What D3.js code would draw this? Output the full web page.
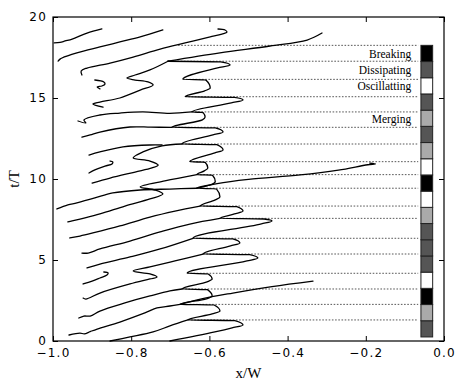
<!DOCTYPE html>
<html>
<head>
<meta charset="utf-8">
<script src="https://cdn.jsdelivr.net/npm/d3@7"></script>
<style>
body { margin: 0; background: #fff; }
</style>
</head>
<body>
<div id="chart"></div>
<script>
// crest trajectories, [x/W, t/T]
var row01 = [[-0.854,0.0],[-0.803,0.25],[-0.744,0.56],[-0.701,0.93],[-0.655,1.30]];
var row02 = [[-0.959,0.37],[-0.931,0.49],[-0.920,0.44],[-0.905,0.58],[-0.887,0.74],[-0.829,1.17],[-0.765,1.73],[-0.734,2.04],[-0.701,2.16],[-0.675,2.26]];
var row03 = [[-0.934,1.42],[-0.921,1.54],[-0.905,1.54],[-0.880,1.85],[-0.816,2.35],[-0.752,2.78],[-0.701,3.09],[-0.670,3.21]];
var row04 = [[-0.923,2.65],[-0.916,2.59],[-0.880,2.96],[-0.803,3.52],[-0.752,3.83],[-0.734,3.95],[-0.752,4.14],[-0.795,4.32],[-0.752,4.57],[-0.688,4.94],[-0.616,5.37]];
var row05 = [[-0.923,3.52],[-0.900,3.70],[-0.880,3.89],[-0.862,4.07],[-0.859,4.20],[-0.870,4.26]];
var row06 = [[-0.913,4.51],[-0.880,4.75],[-0.803,5.19],[-0.726,5.68],[-0.642,6.34]];
var row07 = [[-0.926,5.43],[-0.910,5.43],[-0.880,5.68],[-0.803,6.17],[-0.726,6.73],[-0.650,7.22],[-0.573,7.57]];
var row08 = [[-0.957,6.36],[-0.931,6.48],[-0.898,6.67],[-0.829,7.10],[-0.752,7.65],[-0.688,8.02],[-0.624,8.33]];
var row09 = [[-0.962,7.35],[-0.951,7.41],[-0.931,7.53],[-0.880,7.84],[-0.816,8.33],[-0.752,8.77],[-0.719,9.07],[-0.739,9.32],[-0.777,9.51],[-0.714,9.88],[-0.632,10.27]];
var row10 = [[-0.990,8.15],[-0.962,8.40],[-0.939,8.52],[-0.893,8.83],[-0.847,9.14],[-0.777,9.32],[-0.701,9.38],[-0.632,9.43]];
var row11 = [[-0.900,9.75],[-0.854,10.06],[-0.790,10.43],[-0.747,10.68],[-0.731,10.86],[-0.752,11.11],[-0.795,11.30],[-0.770,11.67],[-0.721,12.04],[-0.670,12.16]];
var row12 = [[-0.908,10.37],[-0.893,10.56],[-0.867,10.80],[-0.849,10.93],[-0.847,11.05],[-0.854,11.11]];
var row13 = [[-0.908,11.48],[-0.880,11.67],[-0.821,11.98],[-0.752,12.10],[-0.721,12.10]];
var row14 = [[-0.926,12.59],[-0.905,12.72],[-0.880,12.90],[-0.803,13.21],[-0.750,13.20],[-0.696,13.19]];
var row15 = [[-0.936,13.58],[-0.916,13.46],[-0.921,13.64],[-0.880,13.95],[-0.829,14.07],[-0.770,14.14],[-0.701,14.05],[-0.645,14.14]];
var row16 = [[-0.872,14.44],[-0.898,14.63],[-0.880,14.75],[-0.829,15.00],[-0.777,15.49],[-0.744,15.80],[-0.757,15.99],[-0.790,16.11],[-0.811,16.23],[-0.790,16.42],[-0.752,16.73],[-0.706,17.27]];
var row17 = [[-0.893,16.11],[-0.870,15.99],[-0.867,15.86],[-0.875,15.74],[-0.887,15.68],[-0.880,15.56]];
var row18 = [[-0.926,16.42],[-0.928,16.67],[-0.913,16.85],[-0.854,17.16],[-0.795,17.53],[-0.726,18.02],[-0.662,18.40],[-0.598,18.77],[-0.568,18.95],[-0.555,19.07],[-0.560,19.20],[-0.578,19.26]];
var row19 = [[-0.987,17.28],[-0.982,17.40],[-0.977,17.47],[-0.939,17.78],[-0.880,18.15],[-0.829,18.46],[-0.777,18.77],[-0.719,19.20]];
var row20 = [[-0.997,18.40],[-0.982,18.43],[-0.969,18.52],[-0.951,18.64],[-0.913,19.01],[-0.875,19.26]];

// oscillating front on the right, t increasing (cusp, flank, bulge, flank, cusp ...)
var chain = [[-0.701,0.0],[-0.586,0.56],[-0.542,0.81],[-0.514,0.99],[-0.535,1.26],[-0.655,1.30],
	[-0.593,1.67],[-0.573,1.85],[-0.588,2.22],[-0.675,2.26],
	[-0.608,2.60],[-0.593,2.78],[-0.605,3.17],[-0.670,3.21],
	[-0.606,3.65],[-0.593,3.83],[-0.603,4.14],[-0.657,4.18],
	[-0.504,4.94],[-0.476,5.12],[-0.497,5.33],[-0.616,5.37],
	[-0.546,5.87],[-0.522,6.05],[-0.540,6.30],[-0.642,6.34],
	[-0.467,7.23],[-0.440,7.41],[-0.460,7.53],[-0.573,7.57],
	[-0.536,7.84],[-0.514,8.02],[-0.530,8.29],[-0.624,8.33],
	[-0.585,8.71],[-0.573,8.89],[-0.582,9.39],[-0.632,9.43],
	[-0.594,9.67],[-0.585,9.85],[-0.592,10.23],[-0.632,10.27],
	[-0.613,10.50],[-0.604,10.68],[-0.611,11.03],[-0.650,11.07],
	[-0.586,11.61],[-0.565,11.79],[-0.581,12.12],[-0.670,12.16],
	[-0.591,12.72],[-0.565,12.90],[-0.585,13.15],[-0.696,13.19],
	[-0.618,13.65],[-0.611,13.83],[-0.616,14.10],[-0.645,14.14],
	[-0.544,14.70],[-0.514,14.88],[-0.536,15.04],[-0.662,15.08],
	[-0.612,15.44],[-0.598,15.62],[-0.609,16.11],[-0.668,16.15],
	[-0.579,16.86],[-0.547,17.04],[-0.571,17.23],[-0.706,17.27]];

// crests that shoot off to the right (breaking)
var jet1 = [[-0.675,2.26],[-0.62,2.60],[-0.540,2.96],[-0.44,3.36],[-0.335,3.70]];
var jet2 = [[-0.632,9.43],[-0.58,9.72],[-0.50,9.98],[-0.368,10.25],[-0.27,10.55],[-0.195,10.88],[-0.175,10.93],[-0.19,10.98]];
var jet3 = [[-0.706,17.27],[-0.573,17.78],[-0.445,18.21],[-0.350,18.58],[-0.312,19.01]];

var rows = [row01,row02,row03,row04,row05,row06,row07,row08,row09,row10,
	row11,row12,row13,row14,row15,row16,row17,row18,row19,row20];
var jets = [jet1, jet2, jet3];

// event times (dotted lines) and where they start
var eventT = [1.30,2.26,3.21,4.18,5.37,6.34,7.57,8.33,9.43,10.27,11.07,12.16,13.19,14.14,15.08,16.15,17.27,18.25];
var eventX = [-0.655,-0.675,-0.670,-0.657,-0.616,-0.642,-0.573,-0.624,-0.632,-0.632,-0.650,-0.670,-0.696,-0.645,-0.662,-0.668,-0.706,-0.680];

// regime of each period, bottom to top
var phases = ["D","M","B","O","D","D","D","M","O","B","O","M","D","M","D","O","D","B"];
var phaseColor = {B: "#000000", D: "#555555", O: "#ffffff", M: "#aaaaaa"};
var phaseNames = [["B","Breaking"],["D","Dissipating"],["O","Oscillatting"],["M","Merging"]];

var xTicks = [-1.0,-0.8,-0.6,-0.4,-0.2,0.0];
var yTicks = [0,5,10,15,20];

var width = 467, height = 391;
var plotL = 53, plotR = 444, plotT = 17, plotB = 341;

var svg = d3.select("#chart").append("svg")
	.attr("width", width)
	.attr("height", height);

var x = d3.scaleLinear().domain([-1, 0]).range([plotL, plotR]);
var y = d3.scaleLinear().domain([0, 20]).range([plotB, plotT]);

// dotted event lines
var evEnd = -0.066;
svg.append("g").selectAll("line")
	.data(eventT)
	.enter()
	.append("line")
	.attr("x1", function(d, i) { return x(eventX[i]); })
	.attr("x2", x(evEnd))
	.attr("y1", function(d) { return y(d); })
	.attr("y2", function(d) { return y(d); })
	.attr("stroke", "#444")
	.attr("stroke-width", 0.9)
	.attr("stroke-dasharray", "1.6,1.6");

var lineRound = d3.line()
	.x(function(d) { return x(d[0]); })
	.y(function(d) { return y(d[1]); })
	.curve(d3.curveCatmullRom.alpha(0.5));

var lineMono = d3.line()
	.x(function(d) { return x(d[0]); })
	.y(function(d) { return y(d[1]); })
	.curve(d3.curveMonotoneY);

var curves = svg.append("g")
	.attr("fill", "none")
	.attr("stroke", "#000")
	.attr("stroke-width", 1.3)
	.attr("stroke-linejoin", "round")
	.attr("stroke-linecap", "round");

curves.selectAll("path.row")
	.data(rows.concat(jets))
	.enter()
	.append("path")
	.attr("class", "row")
	.attr("d", lineRound);

curves.append("path")
	.datum(chain)
	.attr("d", lineMono);

// regime bar
var barX0 = -0.059, barX1 = -0.029, barT0 = 0.25;
svg.append("g").selectAll("rect")
	.data(phases)
	.enter()
	.append("rect")
	.attr("x", x(barX0))
	.attr("width", x(barX1) - x(barX0))
	.attr("y", function(d, i) { return y(barT0 + i + 1); })
	.attr("height", function(d, i) { return y(barT0 + i) - y(barT0 + i + 1); })
	.attr("fill", function(d) { return phaseColor[d]; })
	.attr("stroke", "#222")
	.attr("stroke-width", 1);

svg.append("g").selectAll("text")
	.data(phaseNames)
	.enter()
	.append("text")
	.attr("x", x(-0.084))
	.attr("y", function(d) { return y(barT0 + phases.lastIndexOf(d[0]) + 0.5); })
	.attr("dy", "0.38em")
	.attr("text-anchor", "end")
	.attr("font-family", "'Liberation Serif', serif")
	.attr("font-size", "11.5px")
	.text(function(d) { return d[1]; });

// axes, ticks inside on all four sides
var fmtX = d3.format(".1f");
var axB = svg.append("g")
	.attr("transform", "translate(0," + plotB + ")")
	.call(d3.axisBottom(x).tickValues(xTicks).tickFormat(fmtX).tickSizeInner(-5).tickSizeOuter(0).tickPadding(7));
var axT = svg.append("g")
	.attr("transform", "translate(0," + plotT + ")")
	.call(d3.axisTop(x).tickValues(xTicks).tickFormat("").tickSizeInner(-5).tickSizeOuter(0));
var axL = svg.append("g")
	.attr("transform", "translate(" + plotL + ",0)")
	.call(d3.axisLeft(y).tickValues(yTicks).tickSizeInner(-5).tickSizeOuter(0).tickPadding(6));
var axR = svg.append("g")
	.attr("transform", "translate(" + plotR + ",0)")
	.call(d3.axisRight(y).tickValues(yTicks).tickFormat("").tickSizeInner(-5).tickSizeOuter(0));

[axB, axT, axL, axR].forEach(function(a) {
	a.select(".domain").remove();
	a.selectAll("line").attr("stroke", "#000").attr("stroke-width", 1);
	a.selectAll("text")
		.attr("fill", "#000")
		.attr("font-family", "'DejaVu Sans', sans-serif")
		.attr("font-size", "12px")
		.attr("letter-spacing", "1.2px");
});

svg.append("rect")
	.attr("x", plotL)
	.attr("y", plotT)
	.attr("width", plotR - plotL)
	.attr("height", plotB - plotT)
	.attr("fill", "none")
	.attr("stroke", "#000")
	.attr("stroke-width", 1.2);

svg.append("text")
	.attr("x", (plotL + plotR) / 2)
	.attr("y", 378)
	.attr("text-anchor", "middle")
	.attr("font-family", "'Liberation Serif', serif")
	.attr("font-size", "15px")
	.text("x/W");

svg.append("text")
	.attr("transform", "translate(19," + ((plotT + plotB) / 2) + ") rotate(-90)")
	.attr("text-anchor", "middle")
	.attr("font-family", "'Liberation Serif', serif")
	.attr("font-size", "15px")
	.text("t/T");
</script>
</body>
</html>
